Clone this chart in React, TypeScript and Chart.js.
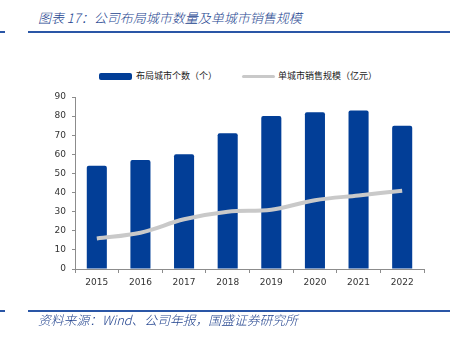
import React, { useEffect, useRef } from "react";
import { Chart, registerables } from "chart.js";

Chart.register(...registerables);

const years = ["2015", "2016", "2017", "2018", "2019", "2020", "2021", "2022"];
const cityCount = [54, 57, 60, 71, 80, 82, 83, 75];
const salesPerCity = [16, 19, 26, 30, 31, 36, 38.5, 41];
const yTicks = [0, 10, 20, 30, 40, 50, 60, 70, 80, 90];

const titleText = "图表 17：公司布局城市数量及单城市销售规模";
const sourceText = "资料来源：Wind、公司年报，国盛证券研究所";
const barLabel = "布局城市个数（个）";
const lineLabel = "单城市销售规模（亿元）";

const BAR_COLOR = "#023e97";
const LINE_COLOR = "#c9c9c9";
const AXIS_COLOR = "#8c8c8c";
const BLUE_TEXT = "#23448f";
const RULE_COLOR = "#2a56a6";

export default function App() {
  const ref = useRef<HTMLCanvasElement | null>(null);

  useEffect(() => {
    if (!ref.current) return;
    const chart = new Chart(ref.current, {
      type: "bar",
      data: {
        labels: years,
        datasets: [
          {
            type: "line",
            label: lineLabel,
            data: salesPerCity,
            borderColor: LINE_COLOR,
            backgroundColor: LINE_COLOR,
            borderWidth: 4,
            pointRadius: 0,
            tension: 0.35,
            order: 0,
          } as any,
          {
            type: "bar",
            label: barLabel,
            data: cityCount,
            backgroundColor: BAR_COLOR,
            borderRadius: 2,
            borderSkipped: "bottom",
            categoryPercentage: 1,
            barPercentage: 0.46,
            order: 1,
          },
        ],
      },
      options: {
        animation: false,
        responsive: false,
        maintainAspectRatio: false,
        layout: { padding: { left: 0, right: 30, top: 97, bottom: 0 } },
        plugins: { legend: { display: false }, tooltip: { enabled: false } },
        scales: {
          x: {
            offset: true,
            border: { color: AXIS_COLOR, width: 1 },
            grid: {
              offset: true,
              drawOnChartArea: false,
              drawTicks: true,
              tickLength: 4,
              color: AXIS_COLOR,
            },
            ticks: {
              color: "#333",
              font: { family: "DejaVu Sans", size: 9 },
              padding: 4,
              maxRotation: 0,
            },
            afterFit: (s: any) => {
              s.height = 69;
            },
          },
          y: {
            min: 0,
            max: 90,
            border: { color: AXIS_COLOR, width: 1 },
            grid: {
              drawOnChartArea: false,
              drawTicks: true,
              tickLength: 3,
              color: AXIS_COLOR,
            },
            afterBuildTicks: (s: any) => {
              s.ticks = yTicks.map((v) => ({ value: v }));
            },
            ticks: {
              color: "#333",
              font: { family: "DejaVu Sans", size: 9 },
              padding: 6,
            },
            afterFit: (s: any) => {
              s.width = 75;
            },
          },
        },
      },
    });
    return () => chart.destroy();
  }, []);

  const ruleStyle = (top: number): React.CSSProperties => ({
    position: "absolute",
    left: 28,
    top,
    width: 422,
    height: 2,
    background: RULE_COLOR,
  });
  const stubStyle = (top: number): React.CSSProperties => ({
    position: "absolute",
    left: 0,
    top,
    width: 5,
    height: 2,
    background: RULE_COLOR,
  });

  return (
    <div
      style={{
        position: "fixed",
        left: 0,
        top: 0,
        width: 454,
        height: 338,
        background: "#fff",
        overflow: "hidden",
      }}
    >
      <div
        style={{
          position: "absolute",
          left: 38,
          top: 9,
          fontFamily: "'Noto Sans CJK SC', sans-serif",
          fontStyle: "italic",
          fontWeight: 300,
          fontSize: 13,
          color: BLUE_TEXT,
          whiteSpace: "nowrap",
          lineHeight: "18px",
        }}
      >
        {titleText}
      </div>
      <div style={stubStyle(31)} />
      <div style={ruleStyle(31)} />

      <div
        style={{
          position: "absolute",
          left: 99,
          top: 73,
          width: 33,
          height: 7,
          background: BAR_COLOR,
          borderRadius: 2,
        }}
      />
      <div
        style={{
          position: "absolute",
          left: 136,
          top: 68,
          fontFamily: "'Noto Sans CJK SC', sans-serif",
          fontSize: 9,
          lineHeight: "16px",
          color: "#222",
          whiteSpace: "nowrap",
        }}
      >
        {barLabel}
      </div>
      <div
        style={{
          position: "absolute",
          left: 242,
          top: 75,
          width: 33,
          height: 3,
          background: LINE_COLOR,
          borderRadius: 2,
        }}
      />
      <div
        style={{
          position: "absolute",
          left: 278,
          top: 68,
          fontFamily: "'Noto Sans CJK SC', sans-serif",
          fontSize: 9,
          lineHeight: "16px",
          color: "#222",
          whiteSpace: "nowrap",
        }}
      >
        {lineLabel}
      </div>

      <canvas
        ref={ref}
        width={454}
        height={338}
        style={{ position: "absolute", left: 0, top: 0, width: 454, height: 338 }}
      />

      <div style={stubStyle(310)} />
      <div style={ruleStyle(310)} />
      <div
        style={{
          position: "absolute",
          left: 38,
          top: 311,
          fontFamily: "'Noto Sans CJK SC', sans-serif",
          fontStyle: "italic",
          fontWeight: 300,
          fontSize: 12.8,
          color: BLUE_TEXT,
          whiteSpace: "nowrap",
          lineHeight: "18px",
        }}
      >
        {sourceText}
      </div>
    </div>
  );
}
